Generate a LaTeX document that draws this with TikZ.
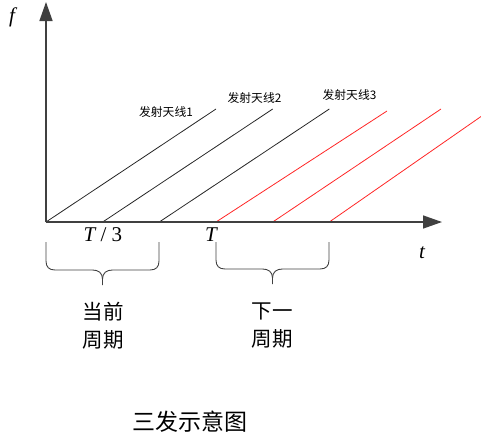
\documentclass[tikz,border=0pt]{standalone}
\usepackage{fontspec}
\setmainfont{Liberation Serif}
\newfontfamily\cjk{Noto Sans CJK SC}
\usetikzlibrary{arrows.meta}
\newcommand\periodbrace[4]{% left x, right x, top y, bar y
  \draw[bracestyle] (#1,#3) -- (#1,{#4-9}) .. controls (#1,{#4-3}) and ({#1+3},#4) .. ({#1+9},#4)
    -- ({(#1+#2)/2-10},#4) .. controls ({(#1+#2)/2-4},#4) and ({(#1+#2)/2},{#4+3}) .. ({(#1+#2)/2},{#4+9})
    -- ({(#1+#2)/2},{#4+15});
  \draw[bracestyle] ({(#1+#2)/2},{#4+9}) .. controls ({(#1+#2)/2},{#4+3}) and ({(#1+#2)/2+4},#4) .. ({(#1+#2)/2+10},#4)
    -- ({#2-9},#4) .. controls ({#2-3},#4) and (#2,{#4-3}) .. (#2,{#4-9}) -- (#2,#3);
}
\begin{document}
\begin{tikzpicture}[x=1pt,y=-1pt,
  axis/.style={line width=1.4pt,draw=black!75,-{Triangle[length=19pt,width=13pt]}},
  sweep/.style={line width=0.8pt,draw=black!85},
  redsweep/.style={line width=0.8pt,draw=red!85},
  bracestyle/.style={line width=0.9pt,draw=black!75},
  ant/.style={font=\cjk\fontsize{11.8}{13}\selectfont,inner sep=0pt},
  big/.style={font=\cjk\fontsize{20.5}{28}\selectfont,align=center,inner sep=0pt},
  title/.style={font=\cjk\fontsize{23}{26}\selectfont,inner sep=0pt},
  var/.style={font=\fontsize{21}{24}\selectfont,inner sep=0pt}]
\useasboundingbox (0,0) rectangle (481,447);
\begin{scope}
\clip (0,0) rectangle (481,447);
% axes
\coordinate (O) at (46,222);
\coordinate (ytop) at (46,2);
\coordinate (xend) at (442,222);
% sweep start and end points
\coordinate (s0) at (46,222);    \coordinate (e0) at (216,109);
\coordinate (s1) at (102.7,222); \coordinate (e1) at (272.7,109);
\coordinate (s2) at (159.3,222); \coordinate (e2) at (329.3,109);
\coordinate (s3) at (216,222);   \coordinate (e3) at (387,111);
\coordinate (s4) at (272.7,222); \coordinate (e4) at (441,109);
\coordinate (s5) at (329.3,222); \coordinate (e5) at (499,104);
\draw[sweep] (s0) -- (e0);
\draw[sweep] (s1) -- (e1);
\draw[sweep] (s2) -- (e2);
\draw[redsweep] (s3) -- (e3);
\draw[redsweep] (s4) -- (e4);
\draw[redsweep] (s5) -- (e5);
\draw[axis] (O) -- (ytop);
\draw[axis] (O) -- (xend);
\end{scope}
% labels
\node[var] (f) at (12,17) {\itshape f};
\node[var] (t) at (422,253) {\itshape t};
\node[var] (T3) at (103,235) {\itshape T\upshape\ / 3};
\node[var] (T) at (211,235) {\itshape T};
\node[ant] (a1) at (166,112.5) {发射天线1};
\node[ant] (a2) at (254.5,98) {发射天线2};
\node[ant] (a3) at (349.5,95) {发射天线3};
% braces
\periodbrace{46}{159}{242}{270}
\periodbrace{216}{329}{242}{269}
\node[big] (cur) at (103,326) {当前\\周期};
\node[big] (nxt) at (272,326) {下一\\周期};
\node[title] (ttl) at (190,422) {三发示意图};
\end{tikzpicture}
\end{document}
